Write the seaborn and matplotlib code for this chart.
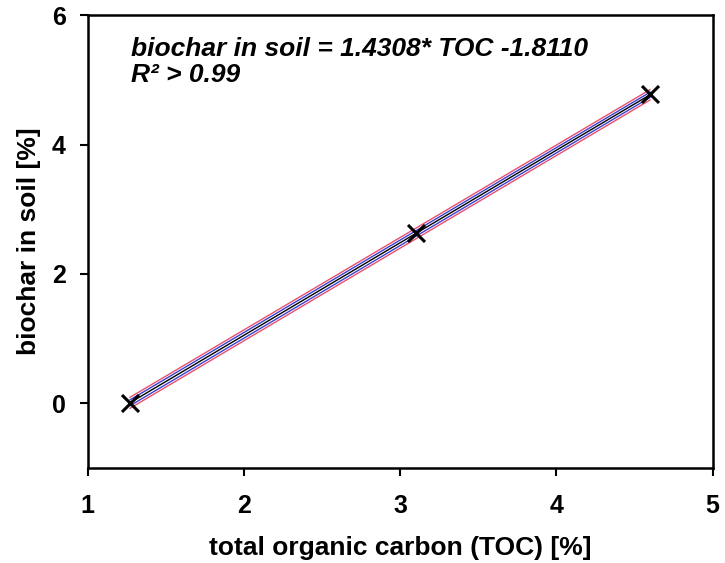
import matplotlib
matplotlib.use("Agg")
import matplotlib.pyplot as plt
import seaborn as sns
import pandas as pd

# measured points
toc = [1.27, 3.10, 4.60]
biochar = [0.00, 2.63, 4.78]

# regression line and bands, read at both ends of the fit
line_x = [1.27, 4.60]
fit_y = [0.006, 4.771]
ci_lo = [-0.04, 4.73]
ci_hi = [0.05, 4.81]
pi_lo = [-0.08, 4.69]
pi_hi = [0.09, 4.85]

sns.set_theme(style="white")
plt.rcParams['font.family'] = ['Liberation Sans', 'DejaVu Sans']
plt.rcParams['text.color'] = 'black'
plt.rcParams['axes.labelcolor'] = 'black'
plt.rcParams['xtick.color'] = 'black'
plt.rcParams['ytick.color'] = 'black'

fig = plt.figure(figsize=(7.25, 5.63), dpi=100)
ax = fig.add_axes([0.121, 0.169, 0.862, 0.804])

lines = pd.DataFrame({"x": line_x, "fit": fit_y, "ci_lo": ci_lo, "ci_hi": ci_hi,
                      "pi_lo": pi_lo, "pi_hi": pi_hi})
for col, c in [("pi_lo", "#e8506e"), ("pi_hi", "#e8506e"),
               ("ci_lo", "#3b3fcf"), ("ci_hi", "#3b3fcf"), ("fit", "black")]:
    sns.lineplot(data=lines, x="x", y=col, ax=ax, color=c, linewidth=1.0)

pts = pd.DataFrame({"toc": toc, "biochar": biochar})
sns.scatterplot(data=pts, x="toc", y="biochar", ax=ax, marker="x", s=150,
                color="black", linewidth=2.2, zorder=5)

ax.set_xlim(1, 5)
ax.set_ylim(-1, 6)
ax.set_xticks([1, 2, 3, 4, 5])
ax.set_yticks([0, 2, 4, 6])
ax.tick_params(axis="both", which="both", direction="out", length=6, width=1.5,
               labelsize=18, bottom=True, left=True, top=False, right=False)
ax.tick_params(axis="x", pad=13)
ax.tick_params(axis="y", pad=10)
for lab in ax.get_xticklabels() + ax.get_yticklabels():
    lab.set_fontweight("bold")
for sp in ax.spines.values():
    sp.set_visible(True)
    sp.set_color("black")
    sp.set_linewidth(1.8)

ax.set_xlabel("total organic carbon (TOC) [%]", fontsize=19, fontweight="bold", labelpad=13)
ax.set_ylabel("biochar in soil [%]", fontsize=19, fontweight="bold", labelpad=8)

ax.text(1.28, 5.66, "biochar in soil = 1.4308* TOC -1.8110\nR² > 0.99",
        fontsize=19, fontweight="bold", fontstyle="italic", va="top", ha="left",
        linespacing=1.1)

fig.savefig("out.png", dpi=100)
